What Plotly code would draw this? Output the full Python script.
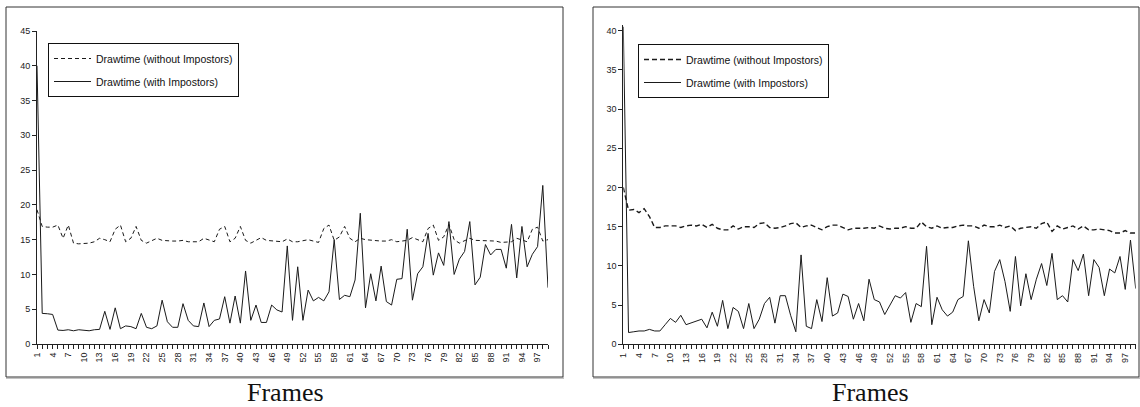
import plotly.graph_objects as go

frames = list(range(1, 100))

left_without = [19.3, 16.9, 16.8, 16.8, 17.1, 15.2, 17.1, 14.5, 14.4, 14.4,
                14.5, 14.7, 15.2, 15.0, 14.7, 16.5, 17.1, 14.7, 15.2, 16.9,
                14.9, 14.5, 14.9, 15.2, 14.9, 14.8, 14.8, 14.8, 14.9, 14.7,
                14.7, 14.7, 15.2, 14.9, 14.7, 16.5, 16.9, 14.7, 15.2, 16.9,
                14.9, 14.5, 14.9, 15.3, 14.9, 14.8, 14.8, 14.7, 15.1, 14.7,
                14.7, 14.8, 15.0, 14.8, 14.6, 16.6, 17.1, 14.9, 15.4, 16.9,
                15.2, 14.7, 15.2, 15.0, 14.9, 14.9, 14.8, 14.8, 15.0, 14.7,
                14.8, 14.9, 15.3, 15.0, 14.7, 16.6, 17.1, 14.9, 15.4, 17.2,
                15.0, 14.5, 14.9, 15.2, 14.9, 14.9, 14.9, 14.9, 14.8, 14.6,
                14.7, 14.7, 15.2, 14.9, 14.7, 16.5, 16.8, 14.8, 15.0]

left_with = [40.0, 4.4, 4.35, 4.25, 2.0, 1.95, 2.05, 1.9, 2.05, 2.0,
             1.9, 2.05, 2.1, 4.7, 2.1, 5.2, 2.2, 2.6, 2.5, 2.2,
             4.4, 2.4, 2.2, 2.6, 6.3, 3.2, 2.4, 2.4, 5.8, 3.4,
             2.6, 2.5, 5.9, 2.5, 3.4, 3.6, 6.8, 3.0, 6.9, 3.0,
             10.5, 3.4, 5.6, 3.1, 3.1, 5.6, 4.9, 4.6, 14.1, 3.4,
             11.1, 3.4, 7.75, 6.2, 6.7, 6.2, 7.5, 15.0, 6.4, 7.0,
             6.8, 9.2, 18.8, 5.2, 10.1, 6.2, 11.2, 6.1, 5.6, 9.3,
             9.4, 16.5, 6.3, 10.1, 11.1, 15.9, 9.9, 13.1, 11.3, 17.6,
             10.0, 12.2, 13.3, 17.6, 8.5, 9.6, 14.3, 12.8, 13.6, 13.6,
             10.9, 17.2, 9.5, 16.9, 11.1, 12.9, 14.0, 22.8, 8.1]

right_without = [20.0, 17.1, 17.2, 16.8, 17.3, 16.3, 14.9, 14.9, 15.1, 15.1,
                 15.1, 14.9, 15.1, 15.2, 15.1, 15.3, 14.9, 15.3, 14.8, 14.6,
                 14.6, 15.1, 14.7, 15.0, 15.0, 14.9, 15.4, 15.5, 14.9, 14.8,
                 14.9, 15.1, 15.4, 15.5, 14.9, 15.1, 15.2, 14.9, 14.6, 15.0,
                 15.2, 15.2, 14.9, 14.6, 14.8, 14.8, 14.8, 14.9, 14.8, 15.1,
                 14.8, 14.7, 14.8, 14.8, 15.0, 14.8, 14.8, 15.6, 15.0, 14.8,
                 15.1, 14.8, 14.9, 14.9, 15.1, 15.2, 15.1, 15.1, 14.8, 15.2,
                 15.0, 15.0, 15.2, 14.9, 15.1, 14.5, 14.8, 14.9, 15.0, 14.8,
                 15.4, 15.6, 14.4, 15.1, 14.7, 14.9, 15.1, 14.7, 15.1, 14.6,
                 14.6, 14.7, 14.6, 14.5, 14.2, 14.2, 14.5, 14.2, 14.2]

right_with = [40.5, 1.5, 1.6, 1.7, 1.7, 1.9, 1.7, 1.7, 2.5, 3.3,
              2.8, 3.7, 2.5, 2.7, 2.9, 3.2, 2.1, 4.1, 2.3, 5.6,
              2.0, 4.7, 4.2, 2.0, 5.2, 2.0, 3.2, 5.2, 6.0, 2.7,
              6.2, 6.2, 3.7, 1.6, 11.4, 2.3, 2.0, 5.7, 2.9, 8.5,
              3.6, 4.0, 6.4, 6.1, 3.2, 5.2, 3.0, 8.3, 5.7, 5.4,
              3.8, 5.0, 6.2, 5.9, 6.6, 2.8, 5.2, 4.8, 12.5, 2.5,
              6.0, 4.4, 3.6, 4.1, 5.7, 6.1, 13.2, 7.4, 3.0, 5.7,
              4.0, 9.3, 10.8, 8.0, 4.2, 11.2, 4.9, 9.0, 5.7, 8.3,
              10.3, 7.5, 11.6, 5.7, 6.2, 5.4, 10.8, 9.4, 11.5, 6.2,
              10.8, 9.8, 6.2, 9.6, 9.1, 11.2, 7.0, 13.3, 7.1]

x_tick_vals = list(range(1, 100, 3))
x_tick_labels = [str(v) for v in x_tick_vals]

name_without = "Drawtime (without Impostors)"
name_with = "Drawtime (with Impostors)"

W, H = 1140, 407
def px(x):
    return x / W
def py(y):
    return (H - y) / H

LINE = "#1a1a1a"
AX = "#222222"

fig = go.Figure()

# Left panel
fig.add_trace(go.Scatter(x=frames, y=left_without, mode="lines", name=name_without,
                         line=dict(color=LINE, width=1, dash="4px,3px"),
                         xaxis="x", yaxis="y", legend="legend", legendgroup="a"))
fig.add_trace(go.Scatter(x=frames, y=left_with, mode="lines", name=name_with,
                         line=dict(color=LINE, width=1),
                         xaxis="x", yaxis="y", legend="legend", legendgroup="b"))
# Right panel
fig.add_trace(go.Scatter(x=frames, y=right_without, mode="lines", name=name_without,
                         line=dict(color=LINE, width=1.4, dash="5px,3px"),
                         xaxis="x2", yaxis="y2", legend="legend2", legendgroup="c"))
fig.add_trace(go.Scatter(x=frames, y=right_with, mode="lines", name=name_with,
                         line=dict(color=LINE, width=1),
                         xaxis="x2", yaxis="y2", legend="legend2", legendgroup="d"))

tickfont = dict(family="Liberation Sans, Arial", size=9, color="#222")

def xax(domain, anchor):
    return dict(domain=domain, anchor=anchor, range=[1, 99], showgrid=False, zeroline=False,
                automargin=False,
                showline=True, linecolor=AX, linewidth=1,
                tickmode="array", tickvals=x_tick_vals, ticktext=x_tick_labels,
                tickangle=-90, ticks="outside", ticklen=4, tickcolor=AX, tickwidth=1,
                minor=dict(tickmode="linear", tick0=1, dtick=1, ticks="outside", ticklen=4,
                           tickcolor=AX, tickwidth=1, showgrid=False),
                tickfont=tickfont, fixedrange=True)

def xov(over, anchor):
    return dict(overlaying=over, anchor=anchor, matches=over, showgrid=False, zeroline=False,
                automargin=False,
                showline=False, tickmode="linear", tick0=1, dtick=1, ticks="inside",
                ticklen=4, tickcolor=AX, tickwidth=1, showticklabels=False)

def yax(domain, anchor, rng):
    return dict(domain=domain, anchor=anchor, range=rng, showgrid=False, zeroline=False,
                automargin=False,
                showline=True, linecolor=AX, linewidth=1,
                tickmode="linear", tick0=0, dtick=5, ticks="outside", ticklen=4,
                tickcolor=AX, tickwidth=1, tickfont=tickfont, fixedrange=True)

def yov(over, anchor):
    return dict(overlaying=over, anchor=anchor, matches=over, showgrid=False, zeroline=False,
                automargin=False,
                showline=False, tickmode="linear", tick0=0, dtick=5, ticks="inside",
                ticklen=4, tickcolor=AX, tickwidth=1, showticklabels=False)

legfont = dict(family="Liberation Sans, Arial", size=10.5, color="#111")

fig.update_layout(
    template="none",
    width=W, height=H, autosize=False,
    margin=dict(l=0, r=0, t=0, b=0, pad=0),
    paper_bgcolor="white", plot_bgcolor="white",
    showlegend=True,
    xaxis=xax([px(37), px(548)], "y"),
    yaxis=yax([py(344), py(31)], "x", [0, 45]),
    xaxis2=xax([px(623.3), px(1135.7)], "y2"),
    yaxis2=yax([py(344.3), py(25.2)], "x2", [0, 40.7]),
    xaxis3=xov("x", "y"),
    yaxis3=yov("y", "x"),
    xaxis4=xov("x2", "y2"),
    yaxis4=yov("y2", "x2"),
    legend=dict(x=px(48), y=py(43), xanchor="left", yanchor="top",
                bordercolor="#111", borderwidth=1, bgcolor="white",
                font=legfont, tracegroupgap=4, itemwidth=37),
    legend2=dict(x=px(638), y=py(44), xanchor="left", yanchor="top",
                 bordercolor="#111", borderwidth=1, bgcolor="white",
                 font=legfont, tracegroupgap=4, itemwidth=37),
    shapes=[
        dict(type="rect", xref="paper", yref="paper", x0=px(6), x1=px(563), y0=py(377), y1=py(7),
             line=dict(color="#333", width=1)),
        dict(type="line", xref="paper", yref="paper", x0=px(6), x1=px(564), y0=py(378), y1=py(378),
             line=dict(color="#888", width=1)),
        dict(type="rect", xref="paper", yref="paper", x0=px(593), x1=px(1139), y0=py(377), y1=py(7),
             line=dict(color="#333", width=1)),
        dict(type="line", xref="paper", yref="paper", x0=px(593), x1=px(1140), y0=py(378), y1=py(378),
             line=dict(color="#888", width=1)),
    ],
    annotations=[
        dict(text="Frames", xref="paper", yref="paper", x=px(285), y=py(392),
             xanchor="center", yanchor="middle", showarrow=False,
             font=dict(family="Liberation Serif, Times New Roman", size=26, color="#111")),
        dict(text="Frames", xref="paper", yref="paper", x=px(870), y=py(392),
             xanchor="center", yanchor="middle", showarrow=False,
             font=dict(family="Liberation Serif, Times New Roman", size=26, color="#111")),
    ],
)

fig.write_html("out.html",
               config={"displayModeBar": False, "staticPlot": True},
               post_script="document.body.style.margin='0px';document.body.style.overflow='hidden';")
